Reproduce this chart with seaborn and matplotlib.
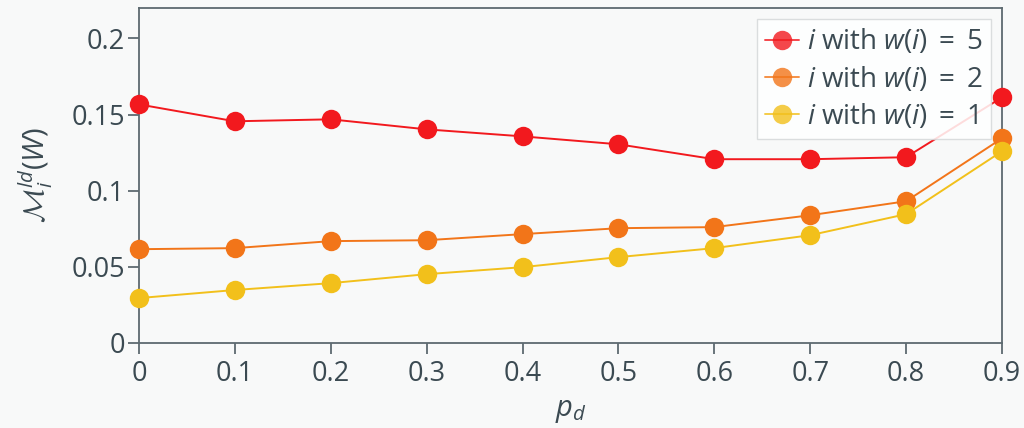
import numpy as np
import pandas as pd
import matplotlib
matplotlib.use("Agg")
import matplotlib.pyplot as plt
import seaborn as sns

# Deletion probability on the x axis
p_d = [0.0, 0.1, 0.2, 0.3, 0.4, 0.5, 0.6, 0.7, 0.8, 0.9]

# Measure for nodes of each weight
m_w5 = [0.1567, 0.1456, 0.1469, 0.1403, 0.1357, 0.1305, 0.1207, 0.1207, 0.1220, 0.1613]
m_w2 = [0.0616, 0.0623, 0.0669, 0.0675, 0.0715, 0.0754, 0.0761, 0.0839, 0.0931, 0.1344]
m_w1 = [0.0295, 0.0348, 0.0393, 0.0452, 0.0498, 0.0564, 0.0623, 0.0708, 0.0846, 0.1259]

series_labels = [r"$i$ with $w(i)\;=\;5$", r"$i$ with $w(i)\;=\;2$", r"$i$ with $w(i)\;=\;1$"]
series_colors = ["#f2191e", "#f27519", "#f2c01b"]

y_ticks = [0, 0.05, 0.1, 0.15, 0.2]
y_tick_labels = ["0", "0.05", "0.1", "0.15", "0.2"]
x_tick_labels = ["0", "0.1", "0.2", "0.3", "0.4", "0.5", "0.6", "0.7", "0.8", "0.9"]

df = pd.DataFrame({
    "p_d": p_d * 3,
    "value": m_w5 + m_w2 + m_w1,
    "series": sum([[lab] * len(p_d) for lab in series_labels], []),
})

bg = "#f8f9f9"
ink = "#3b4a52"
spine = "#5d6a70"

sns.set_theme(style="white")
plt.rcParams["font.family"] = ["Open Sans", "DejaVu Sans"]
plt.rcParams["mathtext.fontset"] = "custom"
plt.rcParams["mathtext.rm"] = "Open Sans"
plt.rcParams["mathtext.it"] = "Open Sans:italic"
plt.rcParams["mathtext.cal"] = "cmsy10"

fig = plt.figure(figsize=(10.24, 4.28), dpi=100, facecolor=bg)
ax = fig.add_axes([0.1357, 0.1986, 0.8428, 0.7827])
ax.set_facecolor(bg)

sns.lineplot(
    data=df, x="p_d", y="value", hue="series", hue_order=series_labels,
    palette=series_colors, marker="o", markersize=14, markeredgewidth=0,
    linewidth=1.4, ax=ax, clip_on=False, zorder=3,
)

ax.set_xlim(0, 0.9)
ax.set_ylim(0, 0.22)
ax.set_xticks(p_d)
ax.set_xticklabels(x_tick_labels)
ax.set_yticks(y_ticks)
ax.set_yticklabels(y_tick_labels)

for s in ax.spines.values():
    s.set_color(spine)
    s.set_linewidth(1.3)
ax.tick_params(axis="both", which="major", direction="out", length=8, width=1.3,
               color=spine, labelcolor=ink, labelsize=19.5, pad=4, bottom=True, left=True)
ax.tick_params(axis="y", pad=2)

ax.set_xlabel(r"$p_d$", fontsize=21, color=ink, labelpad=6)
ax.set_ylabel(r"$\mathcal{M}_i^{ld}(W)$", fontsize=21, color=ink, labelpad=12)

leg = ax.legend(loc="upper right", fontsize=20, frameon=True, fancybox=False,
                framealpha=0.85, edgecolor="#d5d8d9", facecolor="white",
                handlelength=1.2, handletextpad=0.3, borderpad=0.3,
                labelspacing=0.3, borderaxespad=0.4, title=None)
for t in leg.get_texts():
    t.set_color(ink)
for h in leg.legend_handles:
    h.set_alpha(0.8)

fig.savefig("out.png", dpi=100, facecolor=bg)
